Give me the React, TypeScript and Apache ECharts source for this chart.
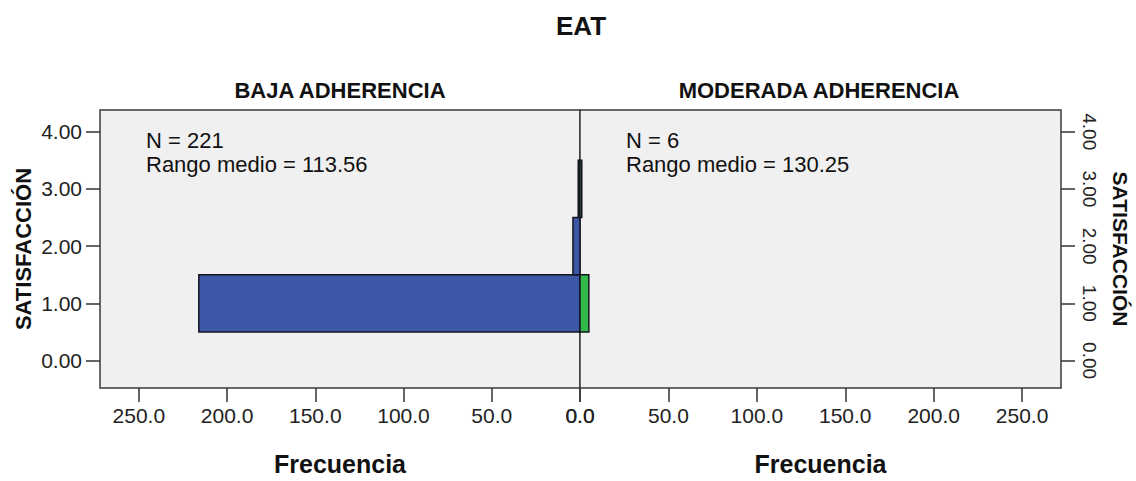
import React, { useEffect, useRef } from "react";
import * as echarts from "echarts";

const satisfaccion = [1, 2, 3];
const bajaFreq = [216, 4, 1];
const moderadaFreq = [5, 0, 1];
const yTicks = [0, 1, 2, 3, 4];
const xTicks = [0, 50, 100, 150, 200, 250];
const panelTitles = ["BAJA ADHERENCIA", "MODERADA ADHERENCIA"];
const statsBaja = ["N = 221", "Rango medio = 113.56"];
const statsModerada = ["N = 6", "Rango medio = 130.25"];

const SANS = "'Liberation Sans', Arial, sans-serif";

export default function App() {
  const ref = useRef<HTMLDivElement>(null);
  useEffect(() => {
    document.body.style.margin = "0";
    if (!ref.current) return;
    const chart = echarts.init(ref.current, undefined, { renderer: "svg" });

    const makeData = (vals: number[]) =>
      satisfaccion.map((s, i) => [s, vals[i]]).filter((d) => d[1] > 0);

    const renderBar = (color: string) => (params: any, api: any) => {
      const y = api.value(0);
      const v = api.value(1);
      const p0 = api.coord([0, y + 0.5]);
      const p1 = api.coord([v, y - 0.5]);
      const x = Math.min(p0[0], p1[0]);
      const w = Math.abs(p1[0] - p0[0]);
      return {
        type: "rect",
        shape: { x, y: p0[1], width: w, height: p1[1] - p0[1] },
        style: { fill: color, stroke: "#15151f", lineWidth: 1.5 },
      };
    };

    const xAxisCommon = {
      type: "value",
      min: 0,
      max: 272,
      splitLine: { show: false },
      axisLine: { show: false, onZero: false },
      axisTick: { show: true, length: 14, lineStyle: { color: "#333", width: 1.5 }, customValues: xTicks },
      axisLabel: {
        customValues: xTicks,
        formatter: (v: number) => v.toFixed(1),
        fontFamily: SANS,
        fontSize: 21,
        color: "#222",
        margin: 17,
      },
      nameLocation: "middle",
      name: "Frecuencia",
      nameGap: 63,
      nameTextStyle: { fontFamily: SANS, fontWeight: "bold", fontSize: 25, color: "#111" },
    };

    const yAxisCommon = {
      type: "value",
      min: -0.48,
      max: 4.38,
      splitLine: { show: false },
      axisLine: { show: false, onZero: false },
      axisTick: { show: true, length: 14, lineStyle: { color: "#333", width: 1.5 }, customValues: yTicks },
      name: "SATISFACCIÓN",
      nameLocation: "middle",
    };

    const titleStyle = { fontFamily: SANS, fontWeight: "bold", fontSize: 22, color: "#111" };

    const statText = (lines: string[], left: number) =>
      lines.map((t, i) => ({
        type: "text",
        left,
        top: 129 + i * 24,
        style: { text: t, font: `22px ${SANS}`, fill: "#111" },
      }));

    const option: any = {
      animation: false,
      backgroundColor: "#ffffff",
      title: [
        { text: "EAT", left: 576, top: 8, textAlign: "center", textStyle: { ...titleStyle, fontSize: 26 } },
        { text: panelTitles[0], left: 335, top: 74, textAlign: "center", textStyle: titleStyle },
        { text: panelTitles[1], left: 814, top: 74, textAlign: "center", textStyle: titleStyle },
      ],
      grid: [
        { left: 100, top: 110, width: 480, height: 283, show: true, backgroundColor: "#f0f0f0", borderColor: "#3a3a3a", borderWidth: 1.5 },
        { left: 580, top: 110, width: 481, height: 283, show: true, backgroundColor: "#f0f0f0", borderColor: "#3a3a3a", borderWidth: 1.5 },
      ],
      xAxis: [
        { ...xAxisCommon, gridIndex: 0, inverse: true },
        { ...xAxisCommon, gridIndex: 1 },
      ],
      yAxis: [
        {
          ...yAxisCommon,
          gridIndex: 0,
          position: "left",
          nameGap: 66,
          nameTextStyle: { fontFamily: SANS, fontWeight: "bold", fontSize: 22, color: "#111" },
          axisLabel: { customValues: yTicks, formatter: (v: number) => v.toFixed(2), fontFamily: SANS, fontSize: 21, color: "#222", margin: 18 },
        },
        {
          ...yAxisCommon,
          gridIndex: 1,
          position: "right",
          nameGap: 49,
          nameRotate: -90,
          nameTextStyle: { fontFamily: SANS, fontWeight: "bold", fontSize: 21, color: "#111" },
          axisLabel: { customValues: yTicks, rotate: -90, formatter: (v: number) => v.toFixed(2), fontFamily: SANS, fontSize: 19, color: "#222", margin: 19 },
        },
      ],
      graphic: [...statText(statsBaja, 146), ...statText(statsModerada, 626)],
      series: [
        {
          type: "custom",
          xAxisIndex: 0,
          yAxisIndex: 0,
          renderItem: renderBar("#3d56a6"),
          encode: { x: 1, y: 0 },
          data: makeData(bajaFreq),
        },
        {
          type: "custom",
          xAxisIndex: 1,
          yAxisIndex: 1,
          renderItem: renderBar("#33b84a"),
          encode: { x: 1, y: 0 },
          data: makeData(moderadaFreq),
        },
      ],
    };
    chart.setOption(option);
    return () => chart.dispose();
  }, []);
  return <div ref={ref} style={{ width: 1136, height: 481 }} />;
}
